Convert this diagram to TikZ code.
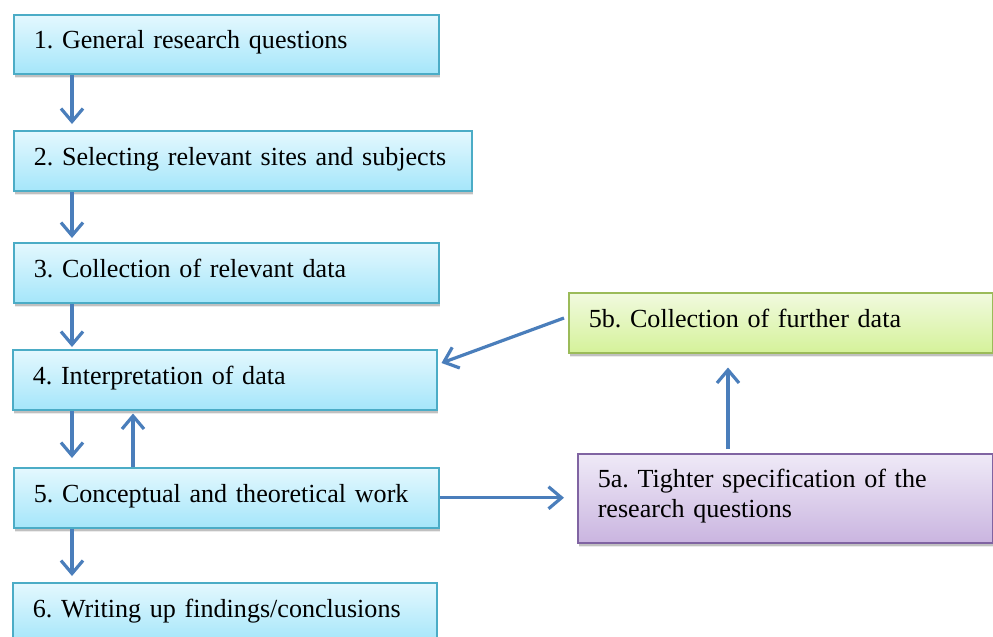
\documentclass[tikz,border=0pt]{standalone}
\usepackage{fontspec}
\setmainfont{Liberation Serif}
\usetikzlibrary{arrows.meta,shadows,calc}
\definecolor{cyanborder}{HTML}{4BACC6}
\definecolor{cyantop}{HTML}{E4F8FE}
\definecolor{cyanbot}{HTML}{A5E6FA}
\definecolor{greenborder}{HTML}{9BBB59}
\definecolor{greentop}{HTML}{F1FADF}
\definecolor{greenbot}{HTML}{D5F29A}
\definecolor{purpleborder}{HTML}{8064A2}
\definecolor{purpletop}{HTML}{EFEAF7}
\definecolor{purplebot}{HTML}{CAB5E0}
\definecolor{arrowblue}{HTML}{4A7EBB}
\newcommand{\myboxfont}{\fontsize{26.1pt}{30pt}\selectfont\frenchspacing}
\hyphenpenalty=10000
\tikzset{
  stepbox/.style={draw=cyanborder, line width=1.5pt, top color=cyantop, bottom color=cyanbot,
    anchor=north west, align=left, inner xsep=20pt, inner ysep=10pt,
    text height=25pt, text depth=15pt,
    font=\myboxfont,
    general shadow={shadow xshift=1pt, shadow yshift=-4.5pt, fill=black, opacity=0.08},
    drop shadow={shadow xshift=1.5pt, shadow yshift=-3pt, fill=black, opacity=0.18}},
  greenbox/.style={stepbox, draw=greenborder, top color=greentop, bottom color=greenbot},
  purplebox/.style={stepbox, draw=purpleborder, top color=purpletop, bottom color=purplebot},
  arr/.style={draw=arrowblue, line width=3.2pt, -{Straight Barb[length=13pt, width=22pt]}}
}
\begin{document}
\begin{tikzpicture}[x=1pt,y=-1pt]
\clip (0,0) rectangle (993,637);
\fill[white] (0,0) rectangle (993,637);
\node[stepbox, text width=385pt, text height=24pt] (b1) at (13,14) {1. General research questions};
\node[stepbox, text width=418pt] (b2) at (13,130) {2. Selecting relevant sites and subjects};
\node[stepbox, text width=385pt] (b3) at (13,242) {3. Collection of relevant data};
\node[stepbox, text width=384pt] (b4) at (12,349) {4. Interpretation of data};
\node[stepbox, text width=385pt] (b5) at (13,467) {5. Conceptual and theoretical work};
\node[stepbox, text width=384pt] (b6) at (12,582) {6. Writing up findings/conclusions};
\node[greenbox, text width=384pt] (b5b) at (568,292) {5b. Collection of further data};
\node[purplebox, text width=375pt, text height=24pt, text depth=45pt] (b5a) at (577,453) {5a. Tighter specification of the\\research questions};

\draw[arr] ($(b1.south west)+(59,0)$) -- ($(b2.north west)+(59,-6)$);
\draw[arr] ($(b2.south west)+(59,0)$) -- ($(b3.north west)+(59,-4)$);
\draw[arr] ($(b3.south west)+(59,0)$) -- ($(b4.north west)+(60,-2)$);
\draw[arr] ($(b4.south west)+(60,0)$) -- ($(b5.north west)+(59,-9)$);
\draw[arr] ($(b5.north west)+(120,0)$) -- ($(b4.south west)+(121,3)$);
\draw[arr] ($(b5.south west)+(59,0)$) -- ($(b6.north west)+(60,-6)$);
\draw[arr, shorten >=13pt] (b5.east) -- (b5.east -| b5a.west);
\draw[arr] ($(b5a.north west)+(151,-4)$) -- ($(b5b.south west)+(160,14)$);
\draw[arr] ($(b5b.north west)+(-4,26)$) -- ($(b4.north east)+(4,14)$);
\end{tikzpicture}
\end{document}
